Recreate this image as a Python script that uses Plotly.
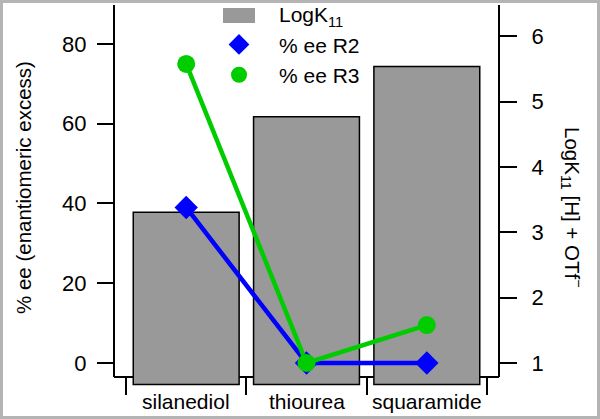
import plotly.graph_objects as go

# data
categories = ["silanediol", "thiourea", "squaramide"]
logk11 = [3.31, 4.77, 5.54]
ee_r2 = [39, 0, 0]
ee_r3 = [75, 0, 9.5]

W, H = 600, 419
L, R, T, B = 114, 101, 5, 33
PW, PH = W - L - R, H - T - B


def px_x(px):
    return (px - L) / PW


def px_y(px):
    return (H - B - px) / PH


FONT = "Liberation Sans, Arial, sans-serif"
GRAY = "#999999"
BLUE = "#0000ff"
GREEN = "#00cc00"
BAR_BASE = 0.67

fig = go.Figure()

# bars on the LogK axis (main y, drawn underneath)
fig.add_trace(go.Bar(
    x=categories, y=[v - BAR_BASE for v in logk11], base=BAR_BASE,
    width=0.88, marker=dict(color=GRAY, line=dict(color="black", width=1.5)),
    yaxis="y", showlegend=False, hoverinfo="skip",
))
# legend entry for the bars (swatch drawn as a shape below)
fig.add_trace(go.Scatter(
    x=[None], y=[None], mode="lines", name="LogK<sub>11</sub>",
    line=dict(color="rgba(0,0,0,0)", width=1), yaxis="y", legendgroup="k",
))

for name, vals, col, sym in [("% ee R2", ee_r2, BLUE, "diamond"),
                             ("% ee R3", ee_r3, GREEN, "circle")]:
    fig.add_trace(go.Scatter(
        x=categories, y=vals, mode="lines", line=dict(color=col, width=4.5),
        yaxis="y2", showlegend=False, hoverinfo="skip", legendgroup=name,
    ))
    fig.add_trace(go.Scatter(
        x=categories, y=vals, mode="markers", name=name,
        marker=dict(color=col, size=18, symbol=sym, line=dict(width=0)),
        yaxis="y2", legendgroup=name,
    ))

axis_pos = px_y(377)

fig.update_layout(
    width=W, height=H,
    margin=dict(l=L, r=R, t=T, b=B, pad=0, autoexpand=False),
    paper_bgcolor="white", plot_bgcolor="rgba(0,0,0,0)",
    font=dict(family=FONT, size=21, color="black"),
    xaxis=dict(
        type="category", range=[-0.6, 2.6], domain=[0, 1],
        anchor="free", position=axis_pos,
        showline=True, linecolor="black", linewidth=2, layer="below traces",
        ticks="outside", tickson="boundaries", ticklen=17, tickwidth=2,
        tickcolor="black", showticklabels=False, showgrid=False, zeroline=False,
    ),
    yaxis=dict(
        side="right", anchor="free", position=1, range=[0.648, 6.482],
        tickvals=[1, 2, 3, 4, 5, 6], ticks="outside", ticklen=17, tickwidth=2,
        tickcolor="black", tickfont=dict(size=22), ticklabelstandoff=10,
        showline=False, showgrid=False, zeroline=False,
    ),
    yaxis2=dict(
        overlaying="y", side="left", anchor="free", position=0,
        range=[-5.77, 89.78], tickvals=[0, 20, 40, 60, 80],
        ticks="outside", ticklen=17, tickwidth=2, tickcolor="black",
        tickfont=dict(size=22), ticklabelstandoff=6,
        showline=False, showgrid=False, zeroline=False,
    ),
    legend=dict(
        x=px_x(199), y=px_y(-6), xanchor="left", yanchor="top",
        bgcolor="rgba(0,0,0,0)", borderwidth=0, itemwidth=70,
        tracegroupgap=0, font=dict(size=21),
    ),
    showlegend=True,
)

# vertical axis lines (stop at the x axis line)
for xp in (0, 1):
    fig.add_shape(type="line", xref="paper", yref="paper",
                  x0=xp, x1=xp, y0=axis_pos, y1=1,
                  line=dict(color="black", width=2), layer="below")

# legend swatch for the bars
fig.add_shape(type="rect", xref="paper", yref="paper",
              x0=px_x(223), x1=px_x(255), y0=px_y(23), y1=px_y(8),
              fillcolor=GRAY, line=dict(width=0), layer="above")

# outer frame
fig.add_shape(type="rect", xref="paper", yref="paper",
              x0=px_x(1.5), x1=px_x(598.5), y0=px_y(417.5), y1=px_y(1.5),
              line=dict(color="#b4b4b4", width=3), layer="below")

# category labels
for c in categories:
    fig.add_annotation(x=c, xref="x", y=px_y(401), yref="paper", text=c,
                       showarrow=False, font=dict(size=21),
                       xanchor="center", yanchor="middle")

# axis titles
fig.add_annotation(x=px_x(23), y=px_y(188), xref="paper", yref="paper",
                   text="% ee (enantiomeric excess)", textangle=-90,
                   xanchor="center", yanchor="middle",
                   showarrow=False, font=dict(size=20.5))
fig.add_annotation(x=px_x(573), y=px_y(207), xref="paper", yref="paper",
                   text="LogK<sub>11</sub> [H] + OTf<sup>\u2212</sup>", textangle=90,
                   xanchor="center", yanchor="middle",
                   showarrow=False, font=dict(size=20.5))

fig.write_html("out.html", config={"displayModeBar": False},
               post_script="document.body.style.margin='0';")
